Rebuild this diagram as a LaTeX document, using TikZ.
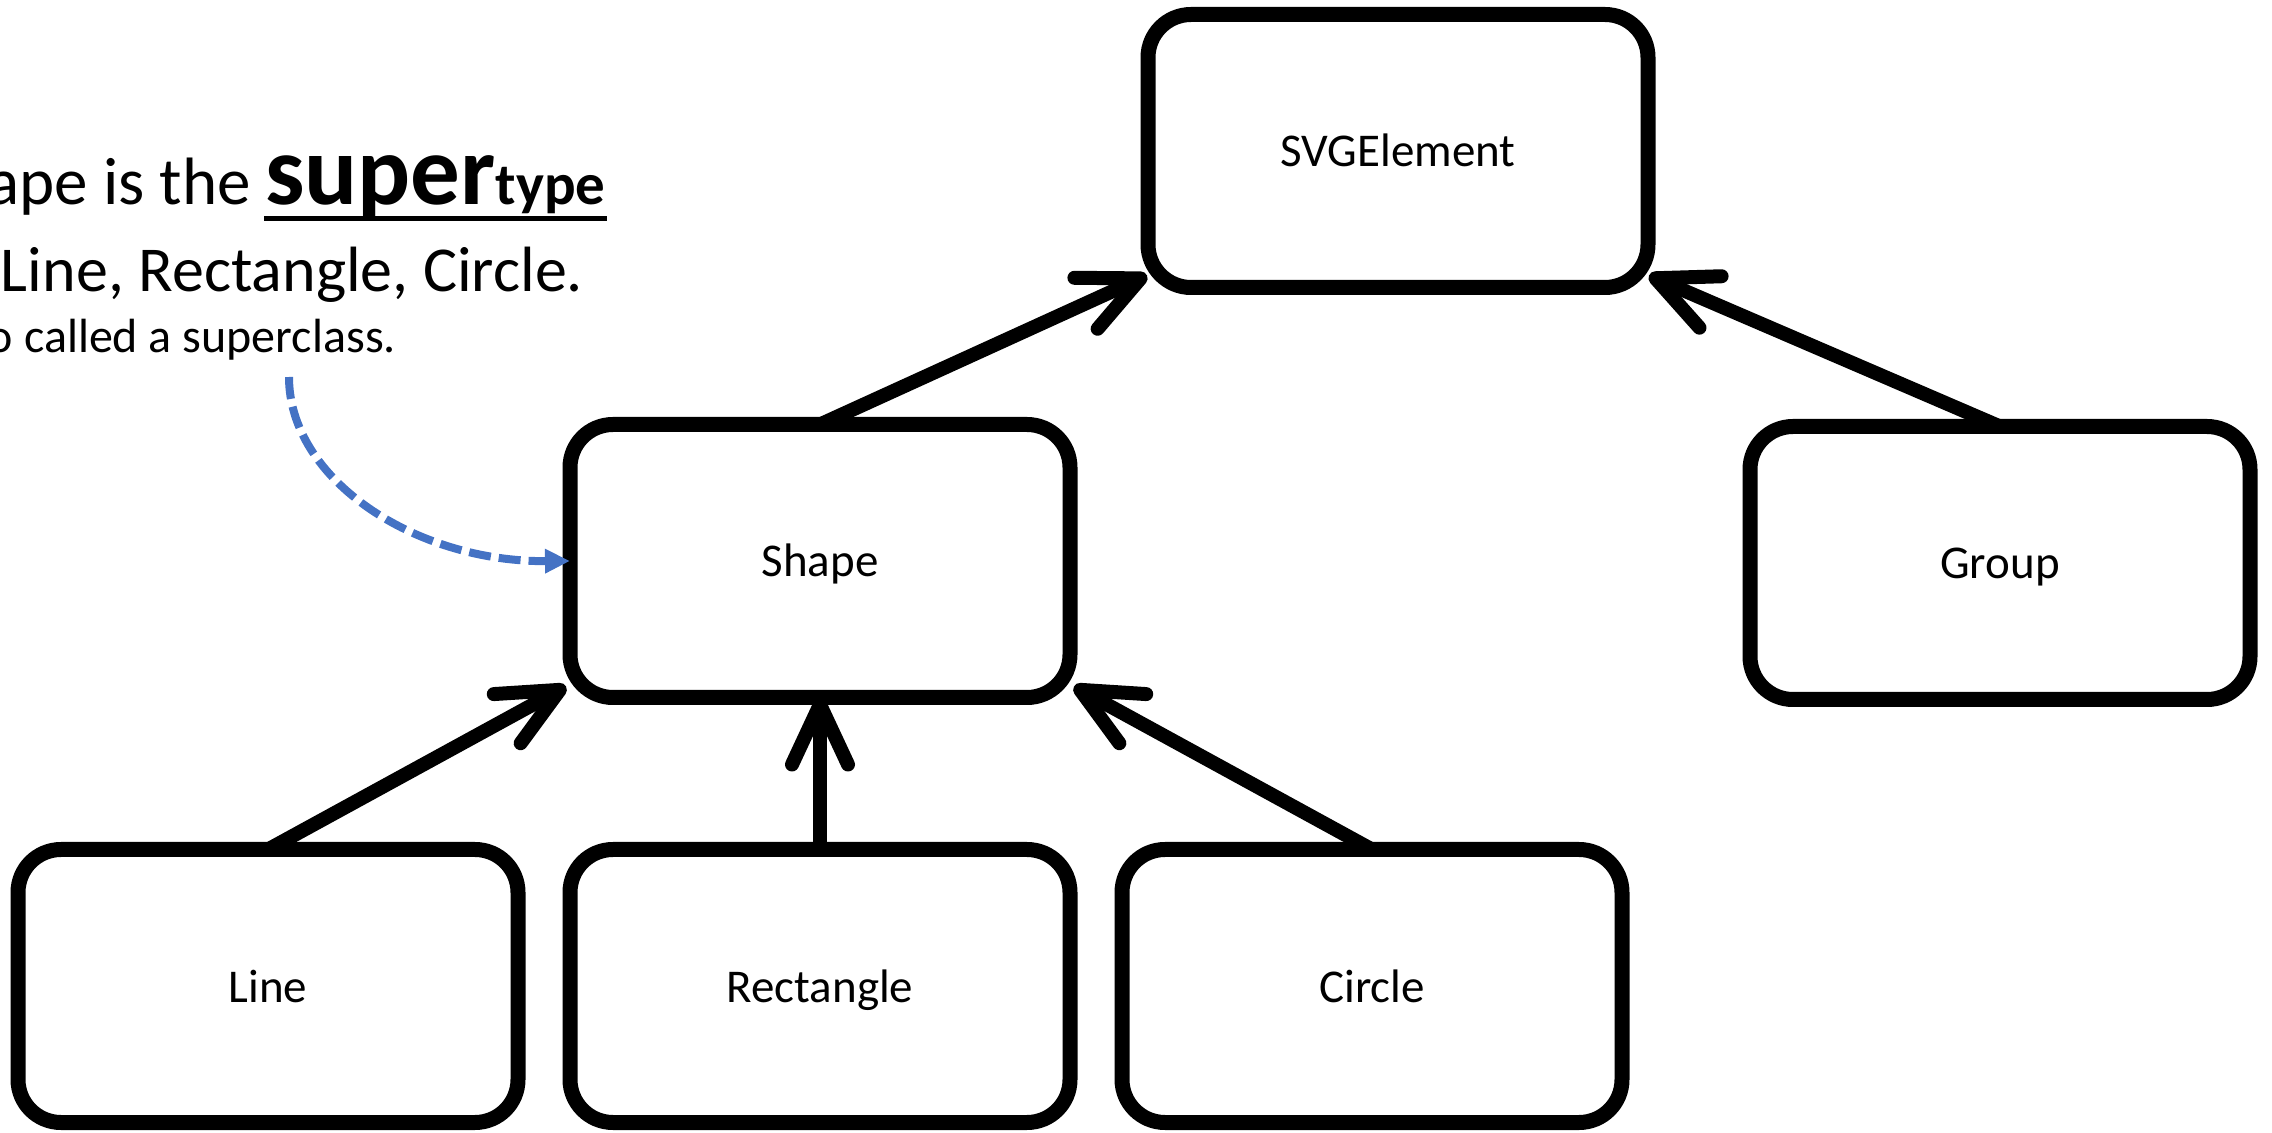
\documentclass[tikz,border=0pt]{standalone}
\usepackage{fontspec}
\setmainfont{Carlito}
\usetikzlibrary{arrows.meta,calc}
\definecolor{accentblue}{HTML}{4472C4}
\begin{document}
\begin{tikzpicture}[x=0.5pt,y=-0.5pt,
  classbox/.style={draw=black, line width=7.5pt, rounded corners=21.5pt,
    minimum width=250pt, minimum height=136.5pt, inner sep=0pt, outer sep=0pt,
    text height=16pt, text depth=0pt,
    font=\fontsize{23.5}{28}\selectfont},
  inherit/.style={line width=7pt, -{Straight Barb[length=30pt,width=28pt,round]}},
  note/.style={inner sep=0pt, outer sep=0pt},
  hint/.style={draw=accentblue, line width=4pt, dash pattern=on 11pt off 4pt,
    -{Triangle[length=12.5pt,width=11.5pt,fill=accentblue]}},
]
\clip (0,0) rectangle (2272,1133);

% class boxes
\node[classbox] (svg)    at (1398,151) {SVGElement};
\node[classbox] (shape)  at (820,561)  {Shape};
\node[classbox] (group)  at (2000,563) {Group};
\node[classbox] (line)   at (268,986)  {Line};
\node[classbox] (rect)   at (820,986)  {Rectangle};
\node[classbox] (circle) at (1372,986) {Circle};

% arrow targets on the rounded corners
\coordinate (svgL)   at ($(svg.south west)+(-1,-12)$);
\coordinate (svgR)   at ($(svg.south east)+(1,-12)$);
\coordinate (shapeL) at ($(shape.south west)+(-4,-11)$);
\coordinate (shapeR) at ($(shape.south east)+(4,-11)$);

% inheritance arrows
\draw[inherit] (shape.north)  -- (svgL);
\draw[inherit] (group.north)  -- (svgR);
\draw[inherit] (line.north)   -- (shapeL);
\draw[inherit] (rect.north)   -- (shape.south);
\draw[inherit] (circle.north) -- (shapeR);

% explanatory note
\node[note, anchor=base east, font=\fontsize{33.5}{40}\selectfont] (l1a) at (251,205) {ape is the};
\node[note, anchor=base west, font=\fontsize{49.5}{59}\selectfont\bfseries] (l1b) at (265,205) {super};
\node[note, anchor=base west, font=\fontsize{29.5}{35}\selectfont\bfseries] (l1c) at (l1b.base east) {type};
\draw[line width=2.5pt] ($(l1b.base west)+(-1,14)$) -- ($(l1c.base east)+(1,14)$);
\node[note, anchor=base east, font=\fontsize{32}{38}\selectfont] (l2) at (583,292) {Line, Rectangle, Circle.};
\node[note, anchor=base west, font=\fontsize{24}{29}\selectfont] (l3) at (-12,353) {o called a superclass.};

% dashed pointer from the note to Shape
\coordinate (hintstart) at (289,377);
\draw[hint] (hintstart) .. controls (289,479) and (414,562) .. (shape.west);
\end{tikzpicture}
\end{document}
